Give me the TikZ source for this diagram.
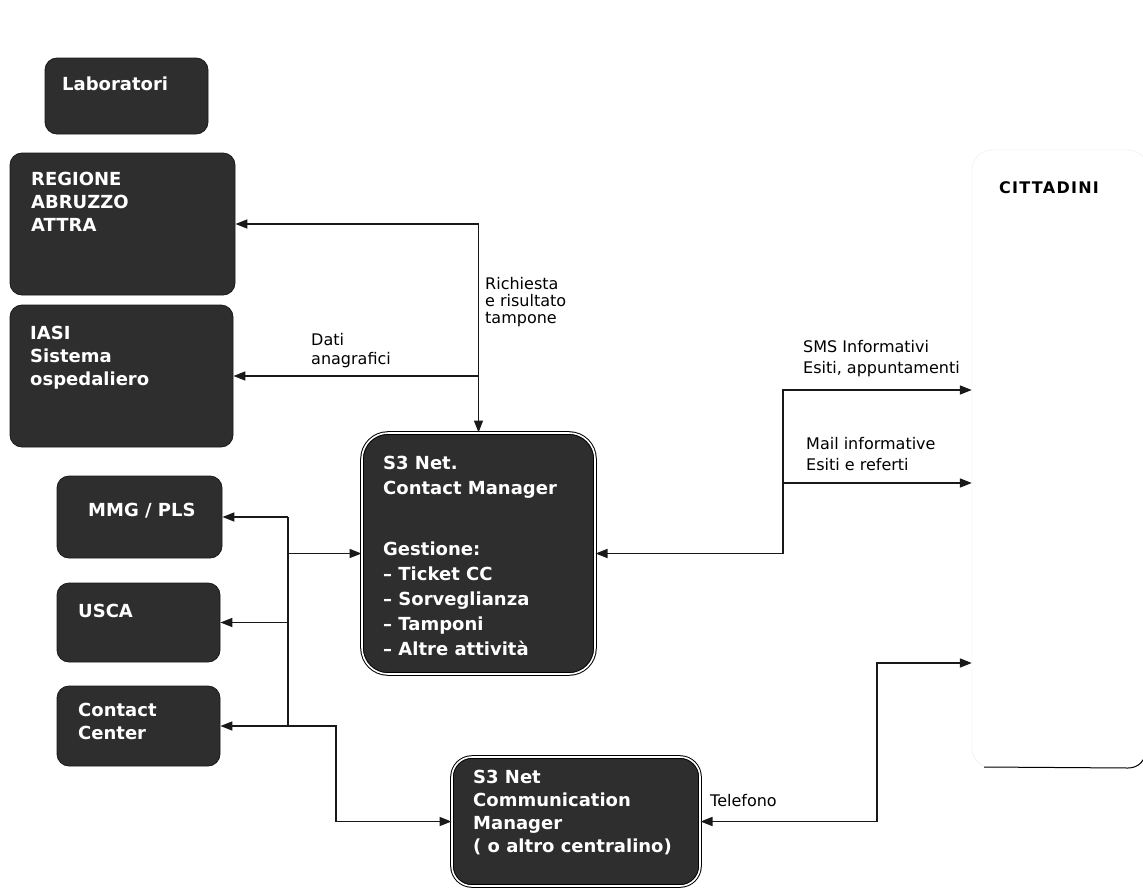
\documentclass[tikz,border=0pt]{standalone}
\usepackage{fontspec}
\setmainfont{DejaVu Sans}
\usetikzlibrary{arrows.meta}
\begin{document}
\begin{tikzpicture}[x=1pt,y=-1pt,
  darkbox/.style={draw=black!90, fill=black!82, rounded corners=12pt, line width=0.8pt, inner sep=0pt},
  bigbox/.style={draw=black, double=white, double distance=1.6pt, line width=1pt, fill=black!82, rounded corners=26pt, inner sep=0pt},
  boxtxt/.style={text=white, font=\fontsize{18}{23}\selectfont\bfseries, align=left, anchor=north west, inner sep=0pt},
  lbl/.style={text=black, font=\fontsize{16}{19}\selectfont, align=left, anchor=north west, inner sep=0pt},
  conn/.style={line width=1.6pt, draw=black!90},
  arr/.style={conn, -{Triangle[length=12pt,width=9pt]}},
]
\useasboundingbox (0,0) rectangle (1143,889);

% citizens area
\node[draw=black!8, rounded corners=20pt, minimum width=176pt, minimum height=618pt, inner sep=0pt] (cit) at (1060,459) {};
\draw[line width=1pt] (984,767) -- (1128,768) .. controls (1139,768) and (1146,760) .. (1146,748);
\node[font=\fontsize{16}{19}\selectfont\bfseries\addfontfeature{LetterSpace=8}, inner sep=0pt] (lcit) at (1049,188) {CITTADINI};

% boxes
\node[darkbox, minimum width=163pt, minimum height=76pt] (lab) at (126.5,96) {};
\node[darkbox, minimum width=225pt, minimum height=142pt] (reg) at (122.5,224) {};
\node[darkbox, minimum width=223pt, minimum height=142pt] (iasi) at (121.5,376) {};
\node[darkbox, minimum width=165pt, minimum height=82pt] (mmg) at (139.5,517) {};
\node[darkbox, minimum width=163pt, minimum height=79pt] (usca) at (138.5,622.5) {};
\node[darkbox, minimum width=163pt, minimum height=80pt] (cc) at (138.5,726) {};
\node[bigbox, minimum width=233pt, minimum height=241pt] (cm) at (478.5,553.5) {};
\node[bigbox, rounded corners=20pt, minimum width=248pt, minimum height=129pt] (com) at (576,821.5) {};

% box texts
\node[boxtxt] (tlab) at (62,77) {Laboratori};
\node[boxtxt] (treg) at (31,172) {REGIONE\\ABRUZZO\\ATTRA};
\node[boxtxt] (tiasi) at (30,326) {IASI\\Sistema\\ospedaliero};
\node[boxtxt] (tmmg) at (88,503) {MMG / PLS};
\node[boxtxt] (tusca) at (78,604) {USCA};
\node[boxtxt] (tcc) at (78,703) {Contact\\Center};
\node[boxtxt, font=\fontsize{18}{25}\selectfont\bfseries] (tcm1) at (383,456) {S3 Net.\\Contact Manager};
\node[boxtxt, font=\fontsize{18}{25}\selectfont\bfseries] (tcm2) at (383,542) {Gestione:\\– Ticket CC\\– Sorveglianza\\– Tamponi\\– Altre attività};
\node[boxtxt] (tcom) at (473,770) {S3 Net\\Communication\\Manager\\( o altro centralino)};

% labels
\node[lbl, font=\fontsize{16}{17}\selectfont] (lrich) at (485,277) {Richiesta\\e risultato\\tampone};
\node[lbl] (ldati) at (311,333) {Dati\\anagrafici};
\node[lbl, font=\fontsize{16}{21}\selectfont] (lsms) at (803,340) {SMS Informativi\\Esiti, appuntamenti};
\node[lbl, font=\fontsize{16}{21}\selectfont] (lmail) at (806,437) {Mail informative\\Esiti e referti};
\node[lbl] (ltel) at (710,794) {Telefono};

% connectors top
\coordinate (j1) at (478.5,224);
\coordinate (j2) at (478.5,376);
\draw[arr] (j1) -- (reg.east);
\draw[arr] (j2) -- (iasi.east);
\draw[arr] (j1) -- (cm.north);

% left bus
\coordinate (b1) at (288,517);
\coordinate (b2) at (288,553.5);
\coordinate (b3) at (288,622.5);
\coordinate (b4) at (288,726);
\coordinate (b5) at (336,726);
\coordinate (b6) at (336,821.5);
\draw[conn] (b1) -- (b4);
\draw[arr] (b1) -- (mmg.east);
\draw[arr] (b3) -- (usca.east);
\draw[arr] (b4) -- (cc.east);
\draw[arr] (b2) -- (cm.west);
\draw[arr] (b4) -- (b5) -- (b6) -- (com.west);

% right side
\coordinate (r0) at (783,553.5);
\coordinate (r1) at (783,390);
\coordinate (r2) at (783,483);
\draw[arr] (r1) -- (r0) -- (cm.east);
\draw[arr] (r0) -- (r1) -- (cit.west |- r1);
\draw[arr] (r2) -- (cit.west |- r2);

% telephone
\coordinate (t0) at (877,821.5);
\coordinate (t1) at (877,663);
\draw[arr] (t1) -- (t0) -- (com.east);
\draw[arr] (t0) -- (t1) -- (cit.west |- t1);
\end{tikzpicture}
\end{document}
